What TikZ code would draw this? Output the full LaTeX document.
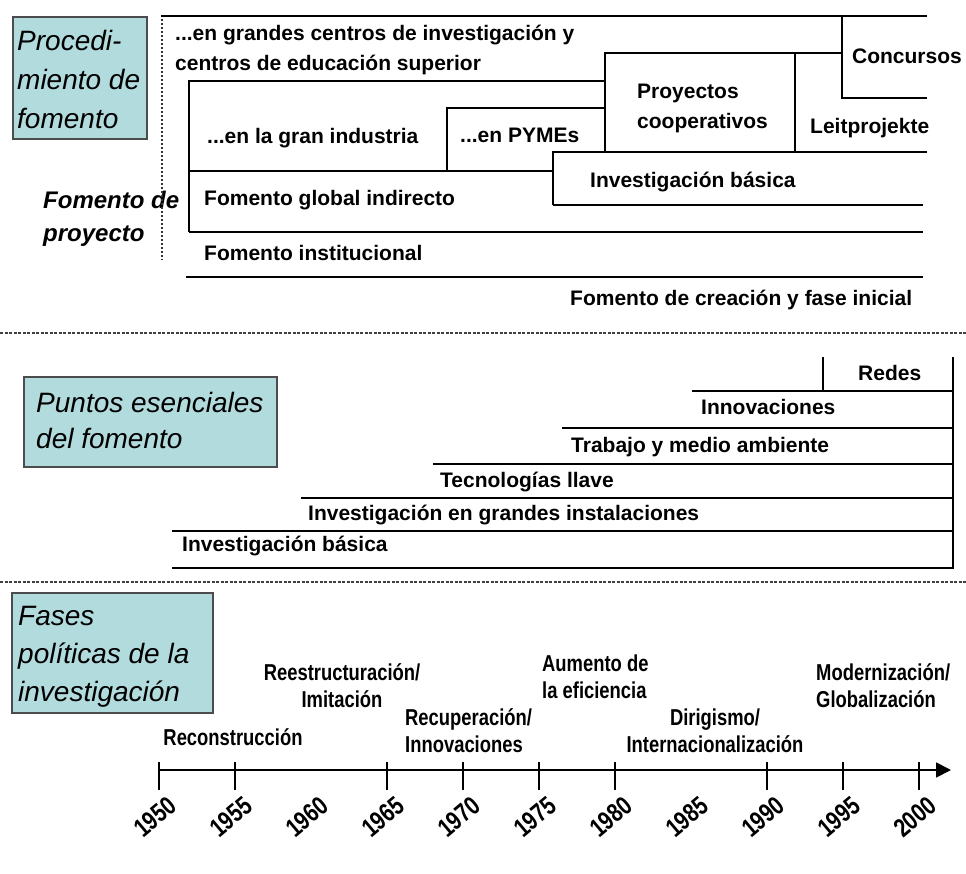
\documentclass[tikz,border=0pt]{standalone}
\usepackage{fontspec}
\setmainfont{Liberation Sans}
\newfontfamily\condsf[FakeStretch=0.8]{Liberation Sans}
\usetikzlibrary{arrows.meta}
\definecolor{boxblue}{RGB}{178,219,222}

\begin{document}
\begin{tikzpicture}[x=1pt, y=-1pt,
    bar/.style={line width=1.8pt},
    sepline/.style={line width=1.6pt, black!75, dash pattern=on 3pt off 1.5pt},
    titlebox/.style={fill=boxblue, draw=black!70, line width=1.6pt},
    ttl/.style={font=\fontsize{28}{39}\selectfont\itshape, inner sep=0pt, align=left, anchor=north west},
    lbl/.style={font=\fontsize{21}{30}\selectfont\bfseries, inner sep=0pt, anchor=west, text height=15pt, text depth=4pt},
    lbltwo/.style={font=\fontsize{21}{30}\selectfont\bfseries, inner sep=0pt, anchor=west, align=left},
    phase/.style={font=\condsf\fontsize{23}{27}\selectfont\bfseries, inner sep=0pt},
    yearlbl/.style={font=\condsf\fontsize{26}{27}\selectfont\bfseries, inner sep=0pt, rotate=40},
  ]
  \useasboundingbox (0,0) rectangle (966,874);

  % Procedimiento de fomento
  \draw[titlebox] (13,17) rectangle (147,139);
  \node[ttl] (procfom) at (17,30) {Procedi-\\miento de\\fomento};
  \node[font=\fontsize{24}{33}\selectfont\bfseries\itshape, inner sep=0pt, align=left, anchor=west]
    (fomproy) at (43,219) {Fomento de\\proyecto};
  \draw[bar, black!80, dash pattern=on 2.5pt off 1.5pt] (162,15) -- (162,260);

  \draw[bar] (161,16) -- (927,16);
  \draw[bar] (842,16) -- (842,98) -- (927,98);
  \draw[bar] (605,152) -- (605,53) -- (842,53);
  \draw[bar] (795,53) -- (795,152);
  \draw[bar] (189,232) -- (189,81) -- (605,81);
  \draw[bar] (447,171) -- (447,108) -- (605,108);
  \draw[bar] (553,205) -- (553,152) -- (927,152);
  \draw[bar] (189,171) -- (553,171);
  \draw[bar] (553,205) -- (923,205);
  \draw[bar] (189,232) -- (923,232);
  \draw[bar] (186,277) -- (923,277);

  \node[lbltwo] (gcentros) at (175,50) {...en grandes centros de investigación y\\centros de educación superior};
  \node[lbl, anchor=center] (concursos) at (907,58) {Concursos};
  \node[lbltwo] (proycoop) at (637,108) {Proyectos\\cooperativos};
  \node[lbl] (leit) at (810,128) {Leitprojekte};
  \node[lbl] (granind) at (207,138) {...en la gran industria};
  \node[lbl] (pymes) at (460,137) {...en PYMEs};
  \node[lbl] (invbas) at (590,182) {Investigación básica};
  \node[lbl] (globind) at (204,200) {Fomento global indirecto};
  \node[lbl] (instit) at (204,255) {Fomento institucional};
  \node[lbl] (creacion) at (570,300) {Fomento de creación y fase inicial};

  \draw[sepline] (0,333) -- (966,333);

  % Puntos esenciales
  \draw[titlebox] (24,377) rectangle (277,467);
  \node[ttl, font=\fontsize{28}{36}\selectfont\itshape] (puntos) at (36,392) {Puntos esenciales\\del fomento};

  \draw[bar] (172,568) -- (953,568) -- (953,357);
  \draw[bar] (172,531) -- (953,531);
  \draw[bar] (301,498) -- (953,498);
  \draw[bar] (433,464) -- (953,464);
  \draw[bar] (562,428) -- (953,428);
  \draw[bar] (692,391) -- (953,391);
  \draw[bar] (823,357) -- (823,391);

  \node[lbl] (ptbasica) at (182,546) {Investigación básica};
  \node[lbl] (ptgrandes) at (308,515) {Investigación en grandes instalaciones};
  \node[lbl] (ptllave) at (440,482) {Tecnologías llave};
  \node[lbl] (ptambiente) at (571,447) {Trabajo y medio ambiente};
  \node[lbl] (ptinnov) at (701,409) {Innovaciones};
  \node[lbl] (ptredes) at (858,375) {Redes};

  \draw[sepline] (0,582) -- (966,582);

  % Fases politicas
  \draw[titlebox] (12,593) rectangle (213,713);
  \node[ttl, font=\fontsize{28}{38}\selectfont\itshape] (fases) at (18,606) {Fases\\políticas de la\\investigación};

  \coordinate (t0) at (159,770);
  \coordinate (t1) at (951,770);
  \draw[bar, -{Triangle[length=15pt, width=15pt]}] (t0) -- (t1);
  \foreach \yr in {1950,1955,1965,1970,1975,1980,1990,1995,2000}
    \draw[bar] ({159+(\yr-1950)*15.2},762) -- ({159+(\yr-1950)*15.2},790);
  \foreach \yr in {1950,1955,...,2000}
    \node[yearlbl] (y\yr) at ({155+(\yr-1950)*15.2},817) {\yr};

  \node[phase] (reconstr) at (233,737) {Reconstrucción};
  \node[phase, align=center] (reestr) at (342,686) {Reestructuración/\\Imitación};
  \node[phase, align=left, anchor=west] (recup) at (405,731) {Recuperación/\\Innovaciones};
  \node[phase, align=left, anchor=west] (aumento) at (542,677) {Aumento de\\la eficiencia};
  \node[phase, align=center] (dirig) at (715,731) {Dirigismo/\\Internacionalización};
  \node[phase, align=left, anchor=west] (modern) at (816,686) {Modernización/\\Globalización};
\end{tikzpicture}
\end{document}
